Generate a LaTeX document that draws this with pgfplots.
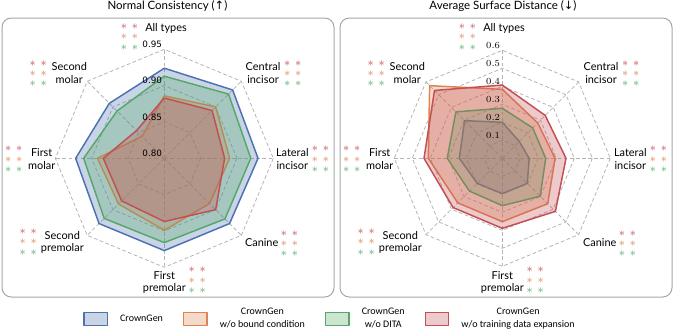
\documentclass[border=0pt]{standalone}
\usepackage{pgfplots}
\pgfplotsset{compat=1.18}
\usepackage{pgfplotstable}
\usepackage{fontspec}
\setmainfont{Lato}
\newfontfamily\dejavu{DejaVu Sans}
\newfontfamily\carlito{Carlito}

\definecolor{cgblue}{HTML}{4C72B0}
\definecolor{bcorange}{HTML}{DD8452}
\definecolor{ditagreen}{HTML}{55A868}
\definecolor{tdered}{HTML}{C44E52}
\definecolor{gridgray}{HTML}{B4B4B4}
\definecolor{framegray}{HTML}{A6A6A6}

% spoke angle (deg) and score of each method, first row repeated to close the polygon
% order: All types, Central incisor, Lateral incisor, Canine, First premolar,
%        Second premolar, First molar, Second molar
\pgfplotstableread{
a     cg     bc     dita   tde
90    0.924  0.886  0.913  0.883
45    0.933  0.900  0.925  0.893
0     0.929  0.890  0.919  0.883
-45   0.927  0.888  0.918  0.900
-90   0.927  0.899  0.916  0.887
-135  0.927  0.889  0.917  0.883
180   0.922  0.892  0.911  0.884
135   0.907  0.843  0.892  0.854
90    0.924  0.886  0.913  0.883
}\nctable

\pgfplotstableread{
a     cg     bc     dita   tde
90    0.200  0.383  0.278  0.407
45    0.133  0.278  0.239  0.337
0     0.149  0.293  0.241  0.354
-45   0.197  0.357  0.298  0.417
-90   0.196  0.352  0.263  0.389
-135  0.197  0.350  0.258  0.387
180   0.239  0.411  0.306  0.435
135   0.296  0.571  0.365  0.533
90    0.200  0.383  0.278  0.407
}\asdtable

\pgfplotsset{
  radar/.style={hide axis, clip=false, anchor=center,
    xmin=-#1, xmax=#1, ymin=-#1, ymax=#1},
  radarseries/.style={draw=#1, fill=#1, fill opacity=0.3,
    line width=1.1pt, line join=round},
}

% significance marks: red / orange / green rows, two columns
\newcommand\stars[2]{%
  \foreach \c/\dy in {tdered/0, bcorange/10.3, ditagreen/20.6} {
    \node[star, text=\c] at (#1, #2+\dy) {$\ast$};
    \node[star, text=\c] at (#1+11, #2+\dy) {$\ast$};
  }}

\begin{document}
\begin{tikzpicture}[x=0.75pt, y=-0.75pt,
  grid/.style={gridgray, line width=0.6pt, dash pattern=on 2.8pt off 1.8pt},
  cat/.style={align=center, inner sep=0pt, font=\fontsize{8.2}{9.5}\selectfont},
  tick/.style={anchor=south east, inner sep=0pt, font=\dejavu\fontsize{6.6}{7}\selectfont},
  star/.style={inner sep=0pt, font=\fontsize{9.5}{9.5}\selectfont}]
\useasboundingbox (0,0) rectangle (674,332);

% panels and titles
\draw[framegray, line width=0.75pt, rounded corners=7pt] (2,18) rectangle (334,297);
\draw[framegray, line width=0.75pt, rounded corners=7pt] (340,18) rectangle (672,297);
\node[font=\fontsize{8.6}{10}\selectfont] at (167.5,6.5) {Normal Consistency ({\dejavu ↑})};
\node[font=\fontsize{8.6}{10}\selectfont] at (503,6.5) {Average Surface Distance ({\dejavu ↓})};

% octagonal grids
\foreach \cx/\n/\s in {164.3/3/36.33, 502.3/6/18} {
  \begin{scope}[shift={(\cx,158.3)}]
    \foreach \k in {1,...,\n} {
      \pgfmathsetmacro\r{\k*\s}
      \draw[grid] (0:\r) -- (45:\r) -- (90:\r) -- (135:\r) -- (180:\r)
        -- (225:\r) -- (270:\r) -- (315:\r) -- cycle;
    }
    \pgfmathsetmacro\R{\n*\s}
    \foreach \t in {0,45,...,315} \draw[grid] (0,0) -- (\t:\R);
  \end{scope}
}

% Normal Consistency: 0.80 at the centre, 0.95 on the outer ring
\begin{axis}[radar=0.165, x=545pt, y=545pt, at={(123.225pt,-118.725pt)},
  legend columns=4,
  legend image code/.code={\draw[#1, line width=1.1pt] (0pt,-5pt) rectangle (17.5pt,5pt);},
  legend style={at={(1.187,-0.170)}, anchor=center, draw=none, fill=none,
    font=\carlito\fontsize{7.5}{10}\selectfont,
    nodes={inner sep=0pt, align=center},
    /tikz/every odd column/.append style={column sep=9pt},
    /tikz/every even column/.append style={column sep=15pt}}]
\addplot[radarseries=cgblue] table[x expr={(\thisrow{cg}-0.8)*cos(\thisrow{a})},
  y expr={(\thisrow{cg}-0.8)*sin(\thisrow{a})}] {\nctable};
\addlegendentry{CrownGen}
\addplot[radarseries=bcorange] table[x expr={(\thisrow{bc}-0.8)*cos(\thisrow{a})},
  y expr={(\thisrow{bc}-0.8)*sin(\thisrow{a})}] {\nctable};
\addlegendentry{CrownGen\\w/o bound condition}
\addplot[radarseries=ditagreen] table[x expr={(\thisrow{dita}-0.8)*cos(\thisrow{a})},
  y expr={(\thisrow{dita}-0.8)*sin(\thisrow{a})}] {\nctable};
\addlegendentry{CrownGen\\w/o DITA}
\addplot[radarseries=tdered] table[x expr={(\thisrow{tde}-0.8)*cos(\thisrow{a})},
  y expr={(\thisrow{tde}-0.8)*sin(\thisrow{a})}] {\nctable};
\addlegendentry{CrownGen\\w/o training data expansion}
\end{axis}

% Average Surface Distance: 0 at the centre, 0.6 on the outer ring
\begin{axis}[radar=0.66, x=135pt, y=135pt, at={(376.725pt,-118.725pt)}]
\addplot[radarseries=cgblue] table[x expr={\thisrow{cg}*cos(\thisrow{a})},
  y expr={\thisrow{cg}*sin(\thisrow{a})}] {\asdtable};
\addplot[radarseries=bcorange] table[x expr={\thisrow{bc}*cos(\thisrow{a})},
  y expr={\thisrow{bc}*sin(\thisrow{a})}] {\asdtable};
\addplot[radarseries=ditagreen] table[x expr={\thisrow{dita}*cos(\thisrow{a})},
  y expr={\thisrow{dita}*sin(\thisrow{a})}] {\asdtable};
\addplot[radarseries=tdered] table[x expr={\thisrow{tde}*cos(\thisrow{a})},
  y expr={\thisrow{tde}*sin(\thisrow{a})}] {\asdtable};
\end{axis}

% radial tick labels
\foreach \k/\lab in {0/0.80, 1/0.85, 2/0.90, 3/0.95}
  \node[tick] at (162.3, 158.3-\k*36.33-1.5) {\lab};
\foreach \k in {1,...,6} {
  \pgfmathsetmacro\lab{\k/10}
  \node[tick] at (500.3, 158.3-\k*18-1.5) {\pgfmathprintnumber[fixed,precision=1]{\lab}};
}

% category labels and significance marks for both panels
\foreach \o in {0, 338} {
  \node[cat, anchor=west] at (145+\o, 28.7) {All types};
  \node[cat] at (69.3+\o, 73) {Second\\molar};
  \node[cat] at (263+\o, 73) {Central\\incisor};
  \node[cat] at (41.7+\o, 159) {First\\molar};
  \node[cat] at (292.3+\o, 159) {Lateral\\incisor};
  \node[cat] at (62.3+\o, 242.5) {Second\\premolar};
  \node[cat] at (261.7+\o, 242.3) {Canine};
  \node[cat] at (164.3+\o, 282.5) {First\\premolar};
  \stars{124+\o}{26.7}
  \stars{32.7+\o}{63.3}
  \stars{287.3+\o}{63.3}
  \stars{8.3+\o}{149}
  \stars{315+\o}{149}
  \stars{22.7+\o}{231.7}
  \stars{284+\o}{233.3}
  \stars{191.7+\o}{270}
}
\end{tikzpicture}
\end{document}
